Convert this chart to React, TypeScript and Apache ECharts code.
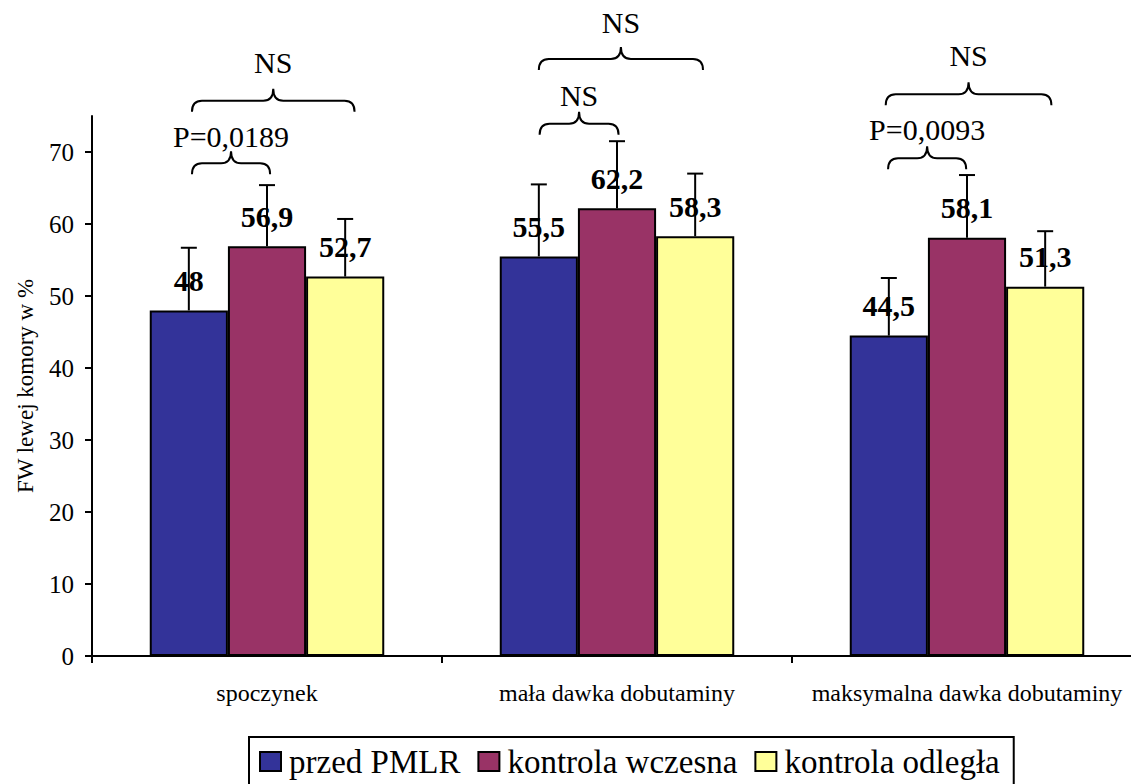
import React, { useEffect, useRef } from "react";
import * as echarts from "echarts";

const categories = ["spoczynek", "mała dawka dobutaminy", "maksymalna dawka dobutaminy"];
const seriesNames = ["przed PMLR", "kontrola wczesna", "kontrola odległa"];
const przedPMLR = [48, 55.5, 44.5];
const kontrolaWczesna = [56.9, 62.2, 58.1];
const kontrolaOdlegla = [52.7, 58.3, 51.3];
const errPrzed = [8.7, 10.0, 8.0];
const errWczesna = [8.5, 9.3, 8.7];
const errOdlegla = [8.0, 8.7, 7.7];
const yTicks = [0, 10, 20, 30, 40, 50, 60, 70];

// significance braces: category, bar slot from/to, value of brace ends, value of label centre
const braceCategory = [0, 0, 1, 1, 2, 2];
const braceFrom = [0.04, 0.04, 0.01, 0.0, -0.01, -0.04];
const braceTo = [1.04, 2.12, 1.02, 2.1, 0.99, 2.08];
const braceEnd = [66.9, 75.6, 72.4, 81.4, 67.6, 76.5];
const braceText = [72.1, 82.5, 77.8, 88.0, 73.1, 83.4];
const braceLabels = ["P=0,0189", "NS", "NS", "NS", "P=0,0093", "NS"];

const colors = ["#333399", "#993366", "#FFFF99"];
const FONT = "'Liberation Serif', 'Times New Roman', serif";
const GAP = 0.33;

const allValues = [przedPMLR, kontrolaWczesna, kontrolaOdlegla];
const allErrors = [errPrzed, errWczesna, errOdlegla];

export default function App() {
  const ref = useRef<HTMLDivElement>(null);
  useEffect(() => {
    if (!ref.current) return;
    const chart = echarts.init(ref.current, null, { renderer: "svg" });

    const barSeries = allValues.map((vals, i) => ({
      name: seriesNames[i],
      type: "bar",
      data: vals,
      barGap: "0%",
      barCategoryGap: GAP * 100 + "%",
      itemStyle: { color: colors[i], borderColor: "#000", borderWidth: 2 },
      label: {
        show: true,
        position: "top",
        distance: 15,
        fontFamily: FONT,
        fontSize: 30,
        fontWeight: "bold",
        color: "#000",
        formatter: (p: any) => String(p.value).replace(".", ","),
      },
      z: 2,
    }));

    const errSeries = allValues.map((vals, slot) => ({
      type: "custom",
      silent: true,
      z: 3,
      encode: { x: 0, y: 1 },
      data: vals.map((v, c) => [c, v, allErrors[slot][c]]),
      renderItem: (params: any, api: any) => {
        const cat = api.value(0);
        const v = api.value(1);
        const e = api.value(2);
        const center = api.coord([cat, 0]);
        const bandW = api.size([1, 0])[0];
        const barW = (bandW * (1 - GAP)) / 3;
        const x = center[0] + (slot - 1) * barW;
        const yBase = api.coord([cat, v])[1];
        const yTop = api.coord([cat, v + e])[1];
        const st = { stroke: "#000", lineWidth: 2 };
        return {
          type: "group",
          children: [
            { type: "line", shape: { x1: x, y1: yBase, x2: x, y2: yTop }, style: st },
            { type: "line", shape: { x1: x - 8, y1: yTop, x2: x + 8, y2: yTop }, style: st },
          ],
        };
      },
    }));

    const braceSeries = {
      type: "custom",
      silent: true,
      z: 4,
      encode: { x: 0, y: 1 },
      data: braceCategory.map((c, i) => [c, braceEnd[i], braceText[i], braceFrom[i], braceTo[i]]),
      renderItem: (params: any, api: any) => {
        const i = params.dataIndex;
        const cat = api.value(0);
        const center = api.coord([cat, 0]);
        const bandW = api.size([1, 0])[0];
        const barW = (bandW * (1 - GAP)) / 3;
        const x1 = center[0] + (api.value(3) - 1) * barW;
        const x2 = center[0] + (api.value(4) - 1) * barW;
        const yEnd = api.coord([cat, api.value(1)])[1];
        const yText = api.coord([cat, api.value(2)])[1];
        const yH = yEnd - 11;
        const yT = yH - 12;
        const xm = (x1 + x2) / 2;
        const r = 10;
        const d =
          `M ${x1} ${yEnd} Q ${x1} ${yH} ${x1 + r} ${yH} L ${xm - r} ${yH} Q ${xm} ${yH} ${xm} ${yT} ` +
          `M ${xm} ${yT} Q ${xm} ${yH} ${xm + r} ${yH} L ${x2 - r} ${yH} Q ${x2} ${yH} ${x2} ${yEnd}`;
        return {
          type: "group",
          children: [
            { type: "path", shape: { pathData: d }, style: { stroke: "#000", lineWidth: 2, fill: "none" } },
            {
              type: "text",
              style: {
                text: braceLabels[i],
                x: xm,
                y: yText,
                align: "center",
                verticalAlign: "middle",
                fill: "#000",
                fontFamily: FONT,
                fontSize: 30,
              },
            },
          ],
        };
      },
    };

    chart.setOption({
      animation: false,
      textStyle: { fontFamily: FONT, color: "#000" },
      grid: { left: 92, right: 0, top: 116, bottom: 128, containLabel: false },
      legend: {
        data: seriesNames,
        left: 249,
        top: 737,
        orient: "horizontal",
        padding: [8, 14, 8, 10],
        itemGap: 17,
        itemWidth: 21,
        itemHeight: 19,
        icon: "rect",
        borderColor: "#000",
        borderWidth: 2,
        borderRadius: 0,
        itemStyle: { borderColor: "#000", borderWidth: 2 },
        textStyle: { fontFamily: FONT, fontSize: 33, color: "#000", padding: [0, 0, 0, 3] },
        selectedMode: false,
      },
      xAxis: {
        type: "category",
        data: categories,
        axisLine: { show: true, lineStyle: { color: "#000", width: 2 } },
        axisTick: { show: true, length: 7, interval: 0, lineStyle: { color: "#000", width: 2 } },
        axisLabel: { interval: 0, fontFamily: FONT, fontSize: 24, color: "#000", margin: 25 },
        splitLine: { show: false },
      },
      yAxis: {
        type: "value",
        min: 0,
        max: 75,
        interval: 10,
        name: "FW lewej komory w %",
        nameLocation: "middle",
        nameRotate: 90,
        nameGap: 55,
        nameTextStyle: { fontFamily: FONT, fontSize: 23, color: "#000" },
        axisLine: { show: true, lineStyle: { color: "#000", width: 2 } },
        axisTick: { show: true, length: 7, lineStyle: { color: "#000", width: 2 }, customValues: yTicks },
        axisLabel: { fontFamily: FONT, fontSize: 25, color: "#000", margin: 18, customValues: yTicks },
        splitLine: { show: false },
      },
      series: [...barSeries, ...errSeries, braceSeries],
    });

    return () => chart.dispose();
  }, []);

  return (
    <div
      ref={ref}
      style={{ position: "fixed", left: 0, top: 0, width: 1142, height: 784, background: "#fff" }}
    />
  );
}
